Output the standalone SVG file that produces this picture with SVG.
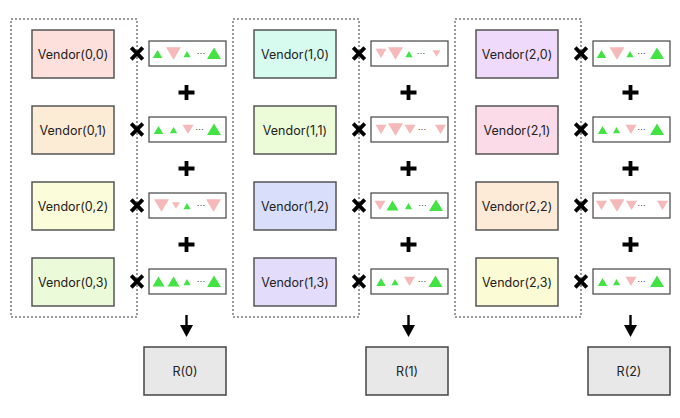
<svg xmlns="http://www.w3.org/2000/svg" width="680" height="418" viewBox="0 0 680 418">
<style>
.grp{fill:none;stroke:#333;stroke-width:1;stroke-dasharray:2,2}
.v{stroke:#555;stroke-width:1.5}
.lbl{font-family:Inter,"Liberation Sans",sans-serif;font-size:12.5px;fill:#222;text-anchor:middle}
.strip{fill:#fff;stroke:#444;stroke-width:1.2}
.up{fill:#44e344}
.dn{fill:#f6b9b9}
.dots{font-family:"Liberation Sans",sans-serif;font-size:9px;fill:#333;text-anchor:middle}
.op{stroke:#000;stroke-width:3.8;fill:none}
.res{fill:#e8e8e8;stroke:#444;stroke-width:1.5}
.arr{stroke:#000;stroke-width:2.4}
</style>
<defs>
<path id="uXL" class="up" d="M0,-6 L7,5.5 L-7,5.5 Z"/>
<path id="uL" class="up" d="M0,-5 L6,5 L-6,5 Z"/>
<path id="uM" class="up" d="M0,-3.5 L4.75,4.5 L-4.75,4.5 Z"/>
<path id="uS" class="up" d="M0,-2.5 L3.6,3.8 L-3.6,3.8 Z"/>
<path id="dL" class="dn" d="M-7.5,-6.3 L7.5,-6.3 L0,6.3 Z"/>
<path id="dM" class="dn" d="M-5.5,-4.8 L5.5,-4.8 L0,4.5 Z"/>
<path id="dS" class="dn" d="M-4,-3.3 L4,-3.3 L0,3.3 Z"/>
<path id="x" class="op" d="M-5.8,-5.8 L5.8,5.8 M5.8,-5.8 L-5.8,5.8"/>
<path id="plus" class="op" d="M-8,0 H8 M0,-7.5 V7.5"/>
</defs>

<g id="groups">
<rect class="grp" x="11" y="19" width="126" height="298"/>
<rect class="grp" x="233" y="19" width="126" height="298"/>
<rect class="grp" x="455" y="19" width="126" height="298"/>
</g>

<g id="vendor-0-0"><rect class="v" x="32" y="30" width="82" height="48" fill="#fde0dc"/><text class="lbl" x="73" y="58.5">Vendor(0,0)</text></g>
<g id="vendor-0-1"><rect class="v" x="32" y="106" width="82" height="48" fill="#fdecd5"/><text class="lbl" x="73" y="134.5">Vendor(0,1)</text></g>
<g id="vendor-0-2"><rect class="v" x="32" y="182" width="82" height="48" fill="#fbfcd9"/><text class="lbl" x="73" y="210.5">Vendor(0,2)</text></g>
<g id="vendor-0-3"><rect class="v" x="32" y="258" width="82" height="48" fill="#ebfbd9"/><text class="lbl" x="73" y="286.5">Vendor(0,3)</text></g>

<g id="vendor-1-0"><rect class="v" x="254" y="30" width="82" height="48" fill="#d7fbee"/><text class="lbl" x="295" y="58.5">Vendor(1,0)</text></g>
<g id="vendor-1-1"><rect class="v" x="254" y="106" width="82" height="48" fill="#ecfcd8"/><text class="lbl" x="295" y="134.5">Vendor(1,1)</text></g>
<g id="vendor-1-2"><rect class="v" x="254" y="182" width="82" height="48" fill="#d9dffb"/><text class="lbl" x="295" y="210.5">Vendor(1,2)</text></g>
<g id="vendor-1-3"><rect class="v" x="254" y="258" width="82" height="48" fill="#e4dcfb"/><text class="lbl" x="295" y="286.5">Vendor(1,3)</text></g>

<g id="vendor-2-0"><rect class="v" x="476" y="30" width="82" height="48" fill="#efdafb"/><text class="lbl" x="517" y="58.5">Vendor(2,0)</text></g>
<g id="vendor-2-1"><rect class="v" x="476" y="106" width="82" height="48" fill="#fbdbe8"/><text class="lbl" x="517" y="134.5">Vendor(2,1)</text></g>
<g id="vendor-2-2"><rect class="v" x="476" y="182" width="82" height="48" fill="#fdebd8"/><text class="lbl" x="517" y="210.5">Vendor(2,2)</text></g>
<g id="vendor-2-3"><rect class="v" x="476" y="258" width="82" height="48" fill="#fbfbd6"/><text class="lbl" x="517" y="286.5">Vendor(2,3)</text></g>

<g id="strip-0-0"><rect class="strip" x="149" y="41" width="77" height="25"/>
<use href="#uM" x="157.5" y="53.5"/><use href="#dL" x="173.5" y="53.5"/><use href="#uS" x="187" y="53.5"/><text class="dots" x="201" y="54">…</text><use href="#uXL" x="214" y="53.5"/></g>
<g id="strip-0-1"><rect class="strip" x="149" y="117" width="77" height="25"/>
<use href="#uM" x="158.5" y="129.5"/><use href="#uS" x="173.5" y="129.5"/><use href="#dM" x="188" y="129.5"/><text class="dots" x="199.5" y="130">…</text><use href="#uXL" x="214" y="129.5"/></g>
<g id="strip-0-2"><rect class="strip" x="149" y="193" width="77" height="25"/>
<use href="#dL" x="161.5" y="205.5"/><use href="#dS" x="176" y="205.5"/><use href="#uS" x="187" y="205.5"/><text class="dots" x="201" y="206">…</text><use href="#dL" x="213.5" y="205.5"/></g>
<g id="strip-0-3"><rect class="strip" x="149" y="269" width="77" height="25"/>
<use href="#uL" x="158.5" y="281.5"/><use href="#uL" x="173.5" y="281.5"/><use href="#uS" x="187" y="281.5"/><text class="dots" x="201" y="282">…</text><use href="#uXL" x="214" y="281.5"/></g>

<g id="strip-1-0"><rect class="strip" x="371" y="41" width="77" height="25"/>
<use href="#dM" x="381" y="53.5"/><use href="#dL" x="395.5" y="53.5"/><use href="#uS" x="409" y="53.5"/><text class="dots" x="421" y="54">…</text><use href="#dS" x="436.5" y="53.5"/></g>
<g id="strip-1-1"><rect class="strip" x="371" y="117" width="77" height="25"/>
<use href="#dM" x="381" y="129.5"/><use href="#dL" x="395.5" y="129.5"/><use href="#dM" x="410" y="129.5"/><text class="dots" x="422" y="130">…</text><use href="#dM" x="440.5" y="129.5"/></g>
<g id="strip-1-2"><rect class="strip" x="371" y="193" width="77" height="25"/>
<use href="#dM" x="380" y="205.5"/><use href="#uL" x="392.5" y="205.5"/><use href="#uS" x="408.5" y="205.5"/><text class="dots" x="422.5" y="206">…</text><use href="#uXL" x="436" y="205.5"/></g>
<g id="strip-1-3"><rect class="strip" x="371" y="269" width="77" height="25"/>
<use href="#uM" x="381" y="281.5"/><use href="#uS" x="395" y="281.5"/><use href="#dM" x="409.5" y="281.5"/><text class="dots" x="422" y="282">…</text><use href="#uXL" x="435.5" y="281.5"/></g>

<g id="strip-2-0"><rect class="strip" x="593" y="41" width="77" height="25"/>
<use href="#uM" x="601.5" y="53.5"/><use href="#dL" x="617" y="53.5"/><use href="#uS" x="630" y="53.5"/><text class="dots" x="641.5" y="54">…</text><use href="#uXL" x="657" y="53.5"/></g>
<g id="strip-2-1"><rect class="strip" x="593" y="117" width="77" height="25"/>
<use href="#uM" x="602.5" y="129.5"/><use href="#uS" x="616.5" y="129.5"/><use href="#dM" x="631" y="129.5"/><text class="dots" x="641.5" y="130">…</text><use href="#uXL" x="657" y="129.5"/></g>
<g id="strip-2-2"><rect class="strip" x="593" y="193" width="77" height="25"/>
<use href="#dM" x="601.5" y="205.5"/><use href="#dL" x="617" y="205.5"/><use href="#dM" x="631.5" y="205.5"/><text class="dots" x="641.5" y="206">…</text><use href="#dM" x="662.5" y="205.5"/></g>
<g id="strip-2-3"><rect class="strip" x="593" y="269" width="77" height="25"/>
<use href="#uM" x="602.5" y="281.5"/><use href="#uS" x="616.5" y="281.5"/><use href="#dM" x="631" y="281.5"/><text class="dots" x="641.5" y="282">…</text><use href="#uXL" x="657" y="281.5"/></g>

<g id="operators">
<use href="#x" x="137" y="53.5"/><use href="#x" x="137" y="129.5"/><use href="#x" x="137" y="205.5"/><use href="#x" x="137" y="281.5"/>
<use href="#x" x="359" y="53.5"/><use href="#x" x="359" y="129.5"/><use href="#x" x="359" y="205.5"/><use href="#x" x="359" y="281.5"/>
<use href="#x" x="581" y="53.5"/><use href="#x" x="581" y="129.5"/><use href="#x" x="581" y="205.5"/><use href="#x" x="581" y="281.5"/>
<use href="#plus" x="186.5" y="92.5"/><use href="#plus" x="186.5" y="168.5"/><use href="#plus" x="186.5" y="244.5"/>
<use href="#plus" x="408.5" y="92.5"/><use href="#plus" x="408.5" y="168.5"/><use href="#plus" x="408.5" y="244.5"/>
<use href="#plus" x="630.5" y="92.5"/><use href="#plus" x="630.5" y="168.5"/><use href="#plus" x="630.5" y="244.5"/>
</g>

<g id="connectors">
<line class="arr" x1="186.5" y1="315" x2="186.5" y2="327"/><path d="M180,325 H193 L186.5,337 Z"/>
<line class="arr" x1="408.5" y1="315" x2="408.5" y2="327"/><path d="M402,325 H415 L408.5,337 Z"/>
<line class="arr" x1="630.5" y1="315" x2="630.5" y2="327"/><path d="M624,325 H637 L630.5,337 Z"/>
</g>

<g id="result-0"><rect class="res" x="144" y="347" width="82" height="48"/><text class="lbl" x="185" y="375.5">R(0)</text></g>
<g id="result-1"><rect class="res" x="366" y="347" width="82" height="48"/><text class="lbl" x="407" y="375.5">R(1)</text></g>
<g id="result-2"><rect class="res" x="588" y="347" width="82" height="48"/><text class="lbl" x="629" y="375.5">R(2)</text></g>
</svg>
